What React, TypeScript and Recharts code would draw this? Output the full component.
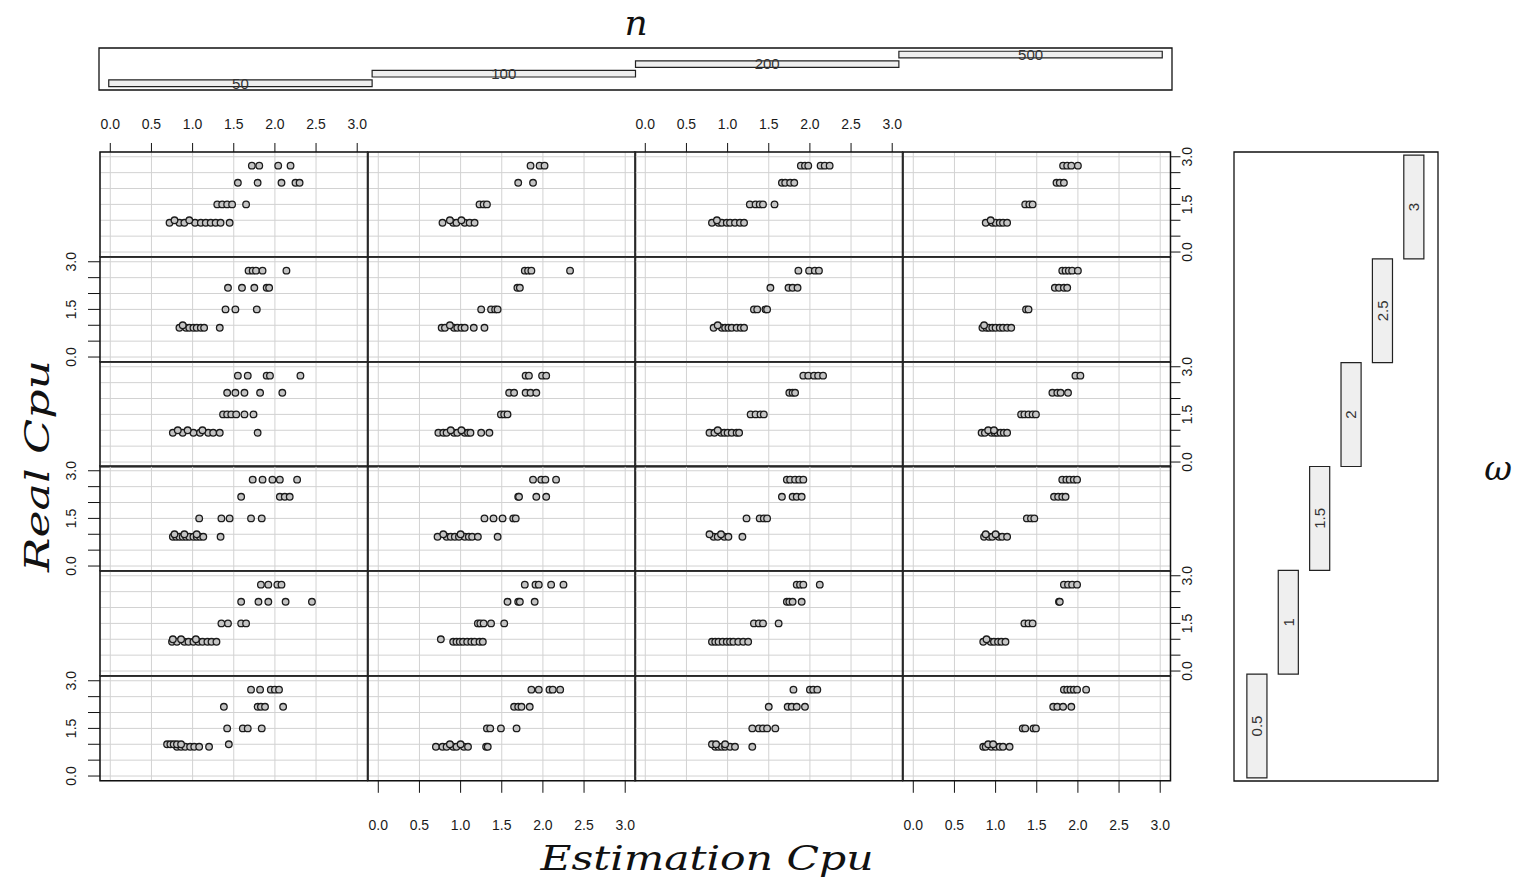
import React from 'react';
import { ScatterChart, Scatter, XAxis, YAxis, CartesianGrid, ReferenceArea } from 'recharts';

// Conditioning values
const N_VALUES = ['50', '100', '200', '500'];
const OMEGA_VALUES = ['0.5', '1', '1.5', '2', '2.5', '3']; // bottom to top

// Real Cpu levels observed in every panel
const REAL_LEVELS: Record<string, number> = { l1: 0.92, up: 1.0, l2: 1.5, l3: 2.18, l4: 2.72 };

// Estimation Cpu values grouped by Real Cpu level, one object per (omega, n) panel
const w3_n50 = { l4: [1.72, 1.81, 2.04, 2.19], l3: [1.55, 1.79, 2.08, 2.25, 2.3], l2: [1.3, 1.36, 1.42, 1.48, 1.65], l1: [0.72, 0.84, 0.9, 1.03, 1.1, 1.16, 1.22, 1.28, 1.34, 1.45], up: [0.78, 0.96] };
const w3_n100 = { l4: [1.85, 1.96, 2.02], l3: [1.7, 1.88], l2: [1.23, 1.28, 1.32], l1: [0.78, 0.91, 0.95, 1.05, 1.11, 1.17], up: [0.87, 1.01] };
const w3_n200 = { l4: [1.89, 1.94, 1.98, 2.13, 2.18, 2.24], l3: [1.66, 1.7, 1.76, 1.81], l2: [1.27, 1.34, 1.39, 1.43, 1.57], l1: [0.81, 0.89, 0.93, 0.99, 1.03, 1.09, 1.15, 1.2], up: [0.87] };
const w3_n500 = { l4: [1.82, 1.87, 1.92, 2.0], l3: [1.74, 1.78, 1.83], l2: [1.36, 1.41, 1.45], l1: [0.88, 0.96, 1.0, 1.05, 1.09, 1.14], up: [0.94] };

const w25_n50 = { l4: [1.68, 1.73, 1.77, 1.85, 2.14], l3: [1.43, 1.6, 1.75, 1.9, 1.93], l2: [1.4, 1.52, 1.78], l1: [0.84, 0.92, 0.96, 1.01, 1.05, 1.1, 1.14, 1.33], up: [0.88] };
const w25_n100 = { l4: [1.78, 1.82, 1.86, 2.33], l3: [1.69, 1.72], l2: [1.25, 1.37, 1.42, 1.45], l1: [0.77, 0.81, 0.92, 0.96, 1.01, 1.05, 1.16, 1.29], up: [0.87] };
const w25_n200 = { l4: [1.86, 1.99, 2.06, 2.11], l3: [1.52, 1.74, 1.79, 1.85], l2: [1.32, 1.36, 1.46, 1.48], l1: [0.83, 0.93, 0.97, 1.01, 1.05, 1.11, 1.16, 1.2], up: [0.88] };
const w25_n500 = { l4: [1.81, 1.85, 1.89, 1.93, 2.0], l3: [1.72, 1.77, 1.83, 1.87], l2: [1.37, 1.4], l1: [0.84, 0.89, 0.92, 0.96, 1.0, 1.05, 1.09, 1.14, 1.19], up: [0.86] };

const w2_n50 = { l4: [1.55, 1.67, 1.9, 1.94, 2.31], l3: [1.42, 1.52, 1.63, 1.82, 2.09], l2: [1.37, 1.42, 1.47, 1.53, 1.63, 1.74], l1: [0.76, 0.88, 1.01, 1.09, 1.19, 1.25, 1.33, 1.79], up: [0.82, 0.94, 1.12] };
const w2_n100 = { l4: [1.79, 1.83, 1.99, 2.04], l3: [1.59, 1.65, 1.79, 1.85, 1.92], l2: [1.49, 1.53, 1.57], l1: [0.73, 0.79, 0.83, 0.92, 0.96, 1.05, 1.09, 1.12, 1.25, 1.35], up: [0.88, 1.01] };
const w2_n200 = { l4: [1.92, 1.98, 2.05, 2.1, 2.16], l3: [1.75, 1.79, 1.82], l2: [1.28, 1.34, 1.4, 1.44], l1: [0.78, 0.84, 0.92, 0.96, 1.0, 1.05, 1.11, 1.14], up: [0.88] };
const w2_n500 = { l4: [1.97, 2.03], l3: [1.69, 1.75, 1.79, 1.88], l2: [1.31, 1.35, 1.4, 1.45, 1.49], l1: [0.83, 0.87, 0.95, 0.99, 1.02, 1.06, 1.1, 1.14], up: [0.91, 0.98] };

const w15_n50 = { l4: [1.73, 1.85, 1.97, 2.06, 2.27], l3: [1.59, 2.06, 2.12, 2.18], l2: [1.08, 1.35, 1.45, 1.71, 1.84], l1: [0.76, 0.8, 0.84, 0.88, 0.92, 0.96, 1.01, 1.05, 1.09, 1.13, 1.34], up: [0.78, 0.9, 1.05] };
const w15_n100 = { l4: [1.88, 1.98, 2.03, 2.16], l3: [1.7, 1.71, 1.92, 2.04], l2: [1.29, 1.4, 1.51, 1.64, 1.67], l1: [0.72, 0.83, 0.88, 0.93, 0.98, 1.05, 1.1, 1.14, 1.21, 1.45], up: [0.79, 1.0] };
const w15_n200 = { l4: [1.72, 1.76, 1.82, 1.87, 1.92], l3: [1.66, 1.79, 1.84, 1.9], l2: [1.23, 1.39, 1.44, 1.48], l1: [0.83, 0.88, 0.96, 1.01, 1.18], up: [0.78, 0.92] };
const w15_n500 = { l4: [1.81, 1.86, 1.9, 1.95, 1.99], l3: [1.71, 1.76, 1.81, 1.85], l2: [1.38, 1.43, 1.47], l1: [0.86, 0.92, 0.96, 1.04, 1.08, 1.14], up: [0.88, 1.0] };

const w1_n50 = { l4: [1.83, 1.92, 2.03, 2.08], l3: [1.59, 1.8, 1.92, 2.13, 2.45], l2: [1.35, 1.43, 1.59, 1.65], l1: [0.75, 0.81, 0.9, 0.95, 1.01, 1.07, 1.12, 1.18, 1.23, 1.29], up: [0.76, 0.86, 1.04] };
const w1_n100 = { l4: [1.78, 1.91, 1.95, 2.1, 2.25], l3: [1.57, 1.7, 1.72, 1.9], l2: [1.21, 1.24, 1.28, 1.37, 1.53], l1: [0.91, 0.95, 0.99, 1.03, 1.08, 1.13, 1.17, 1.23, 1.27], up: [0.76] };
const w1_n200 = { l4: [1.84, 1.88, 1.92, 2.12], l3: [1.72, 1.75, 1.79, 1.9], l2: [1.32, 1.38, 1.43, 1.62], l1: [0.81, 0.85, 0.89, 0.94, 0.99, 1.03, 1.07, 1.13, 1.19, 1.25], up: [] };
const w1_n500 = { l4: [1.83, 1.88, 1.93, 1.99], l3: [1.77, 1.78], l2: [1.35, 1.4, 1.45], l1: [0.85, 0.94, 0.98, 1.03, 1.07, 1.12], up: [0.89] };

const w05_n50 = { l4: [1.71, 1.82, 1.95, 2.0, 2.05], l3: [1.38, 1.79, 1.83, 1.88, 2.1], l2: [1.42, 1.61, 1.67, 1.84], l1: [0.81, 0.86, 0.91, 0.97, 1.02, 1.08, 1.2], up: [0.69, 0.73, 0.77, 0.81, 0.86, 1.44] };
const w05_n100 = { l4: [1.86, 1.95, 2.08, 2.12, 2.21], l3: [1.65, 1.7, 1.74, 1.84], l2: [1.32, 1.36, 1.49, 1.68], l1: [0.7, 0.78, 0.83, 0.91, 0.95, 1.04, 1.09, 1.31, 1.33], up: [0.87, 1.0] };
const w05_n200 = { l4: [1.8, 2.0, 2.04, 2.09], l3: [1.5, 1.73, 1.78, 1.84, 1.94], l2: [1.3, 1.38, 1.43, 1.48, 1.58], l1: [0.85, 0.89, 0.93, 0.97, 1.03, 1.09, 1.3], up: [0.81, 0.86, 0.97] };
const w05_n500 = { l4: [1.83, 1.87, 1.91, 1.95, 1.99, 2.1], l3: [1.7, 1.75, 1.82, 1.92], l2: [1.33, 1.36, 1.46, 1.49], l1: [0.85, 0.88, 0.95, 1.0, 1.05, 1.09, 1.17], up: [0.91, 0.97] };

// Panel rows from top (omega = 3) to bottom (omega = 0.5), columns n = 50..500
const PANEL_ROWS = [
  [w3_n50, w3_n100, w3_n200, w3_n500],
  [w25_n50, w25_n100, w25_n200, w25_n500],
  [w2_n50, w2_n100, w2_n200, w2_n500],
  [w15_n50, w15_n100, w15_n200, w15_n500],
  [w1_n50, w1_n100, w1_n200, w1_n500],
  [w05_n50, w05_n100, w05_n200, w05_n500],
];

const AXIS_TICKS = [0, 0.5, 1, 1.5, 2, 2.5, 3];
const LABELED_SIDE_TICKS = [0, 1.5, 3];

// Layout
const GRID_LEFT = 100;
const GRID_TOP = 152;
const PW = 267.5;
const PH = 104.8;
const PAD = 2;
const SIDE_LABEL_PAD = 14;
const X_DOMAIN: [number, number] = [-0.125, 3.125];
const Y_DOMAIN: [number, number] = [-0.15, 3.15];
const TOP_AXIS_H = 40;
const BOTTOM_AXIS_H = 56;
const LEFT_AXIS_W = 40;
const RIGHT_AXIS_W = 30;

const TICK_FONT = "'Liberation Sans Narrow', 'Liberation Sans', Arial, sans-serif";
const TITLE_FONT = "'DejaVu Serif', 'Liberation Serif', serif";
const GRID_COLOR = '#d2d2d2';

type Levels = Record<string, number[]>;

const toPoints = (levels: Levels) =>
  Object.keys(levels).flatMap((k) => levels[k].map((x) => ({ x, y: REAL_LEVELS[k] })));

const fmt = (v: number) => Number(v).toFixed(1);

const renderTopTick = (p: any) => (
  <text x={p.x} y={p.y} textAnchor="middle" fontSize={14} fontFamily={TICK_FONT} fill="#1a1a1a">
    {fmt(p.payload.value)}
  </text>
);

const renderBottomTick = (p: any) => (
  <text x={p.x} y={p.y + 10.5} textAnchor="middle" fontSize={14} fontFamily={TICK_FONT} fill="#1a1a1a">
    {fmt(p.payload.value)}
  </text>
);

const renderSideTick = (p: any) => {
  const v = Number(p.payload.value);
  if (!LABELED_SIDE_TICKS.includes(v)) return <g />;
  return (
    <text
      x={p.x}
      y={p.y}
      transform={`rotate(-90 ${p.x} ${p.y})`}
      textAnchor="middle"
      fontSize={14}
      fontFamily={TICK_FONT}
      fill="#1a1a1a"
    >
      {fmt(v)}
    </text>
  );
};

const renderPoint = (p: any) => (
  <circle cx={p.cx} cy={p.cy} r={3.3} fill="#c4c4c4" stroke="#1c1c1c" strokeWidth={1.3} />
);

function Panel({ row, col, levels }: { row: number; col: number; levels: Levels }) {
  const showTop = row === 0 && col % 2 === 0;
  const showBottom = row === PANEL_ROWS.length - 1 && col % 2 === 1;
  const showLeft = col === 0 && row % 2 === 1;
  const showRight = col === 3 && row % 2 === 0;
  const hasX = showTop || showBottom;
  const hasY = showLeft || showRight;
  const vPad = hasY ? SIDE_LABEL_PAD : PAD;
  const topH = showTop ? TOP_AXIS_H : 0;
  const bottomH = showBottom ? BOTTOM_AXIS_H : 0;
  const leftW = showLeft ? LEFT_AXIS_W : 0;
  const rightW = showRight ? RIGHT_AXIS_W : 0;
  const width = PW + leftW + rightW + 2 * PAD;
  const height = PH + topH + bottomH + 2 * vPad;
  const left = GRID_LEFT + col * PW - leftW - PAD;
  const top = GRID_TOP + row * PH - topH - vPad;

  return (
    <div style={{ position: 'absolute', left, top }}>
      <ScatterChart width={width} height={height} margin={{ top: vPad, right: PAD, bottom: vPad, left: PAD }}>
        <CartesianGrid stroke={GRID_COLOR} strokeWidth={1} />
        <XAxis
          type="number"
          dataKey="x"
          domain={X_DOMAIN}
          allowDataOverflow
          ticks={AXIS_TICKS}
          interval={0}
          hide={!hasX}
          orientation={showTop ? 'top' : 'bottom'}
          height={showTop ? TOP_AXIS_H : BOTTOM_AXIS_H}
          axisLine={false}
          tickLine={{ stroke: '#111', strokeWidth: 1 }}
          tickSize={showTop ? 9 : 12}
          tickMargin={showTop ? 14 : 27}
          tick={showTop ? renderTopTick : renderBottomTick}
        />
        <YAxis
          type="number"
          dataKey="y"
          domain={Y_DOMAIN}
          allowDataOverflow
          ticks={AXIS_TICKS}
          interval={0}
          hide={!hasY}
          orientation={showRight ? 'right' : 'left'}
          width={showRight ? RIGHT_AXIS_W : LEFT_AXIS_W}
          axisLine={false}
          tickLine={{ stroke: '#111', strokeWidth: 1 }}
          tickSize={showRight ? 10 : 12}
          tickMargin={12}
          tick={renderSideTick}
        />
        <ReferenceArea
          x1={X_DOMAIN[0]}
          x2={X_DOMAIN[1]}
          y1={Y_DOMAIN[0]}
          y2={Y_DOMAIN[1]}
          fill="none"
          stroke="#111"
          strokeWidth={1.5}
        />
        <Scatter data={toPoints(levels)} shape={renderPoint} isAnimationActive={false} />
      </ScatterChart>
    </div>
  );
}

// Given panel for n: one horizontal interval per column, stepping upward
const N_BOX = { left: 99, top: 47.5, width: 1073, height: 42 };
const N_X_DOMAIN: [number, number] = [-0.037, 4.037];
const N_Y_DOMAIN: [number, number] = [-0.36, 4.03];
const N_BAR_H = 0.69;

function NGivenPanel() {
  return (
    <div style={{ position: 'absolute', left: N_BOX.left - PAD, top: N_BOX.top - PAD }}>
      <ScatterChart
        width={N_BOX.width + 2 * PAD}
        height={N_BOX.height + 2 * PAD}
        margin={{ top: PAD, right: PAD, bottom: PAD, left: PAD }}
      >
        <XAxis type="number" dataKey="x" domain={N_X_DOMAIN} allowDataOverflow hide />
        <YAxis type="number" dataKey="y" domain={N_Y_DOMAIN} allowDataOverflow hide />
        <ReferenceArea
          x1={N_X_DOMAIN[0]}
          x2={N_X_DOMAIN[1]}
          y1={N_Y_DOMAIN[0]}
          y2={N_Y_DOMAIN[1]}
          fill="none"
          stroke="#111"
          strokeWidth={1.3}
        />
        {N_VALUES.map((n, i) => (
          <ReferenceArea
            key={n}
            x1={i}
            x2={i + 1}
            y1={i}
            y2={i + N_BAR_H}
            fill="#efefef"
            fillOpacity={1}
            stroke="#222"
            strokeWidth={1.2}
            label={{ value: n, position: 'center', fontSize: 15, fontFamily: TICK_FONT, fill: '#333' }}
          />
        ))}
      </ScatterChart>
    </div>
  );
}

// Given panel for omega: one vertical interval per row, stepping upward
const W_BOX = { left: 1234, top: 152, width: 204, height: 629 };
const W_X_DOMAIN: [number, number] = [-0.41, 6.09];
const W_Y_DOMAIN: [number, number] = [-0.03, 6.03];
const W_BAR_W = 0.64;

function OmegaGivenPanel() {
  return (
    <div style={{ position: 'absolute', left: W_BOX.left - PAD, top: W_BOX.top - PAD }}>
      <ScatterChart
        width={W_BOX.width + 2 * PAD}
        height={W_BOX.height + 2 * PAD}
        margin={{ top: PAD, right: PAD, bottom: PAD, left: PAD }}
      >
        <XAxis type="number" dataKey="x" domain={W_X_DOMAIN} allowDataOverflow hide />
        <YAxis type="number" dataKey="y" domain={W_Y_DOMAIN} allowDataOverflow hide />
        <ReferenceArea
          x1={W_X_DOMAIN[0]}
          x2={W_X_DOMAIN[1]}
          y1={W_Y_DOMAIN[0]}
          y2={W_Y_DOMAIN[1]}
          fill="none"
          stroke="#111"
          strokeWidth={1.3}
        />
        {OMEGA_VALUES.map((w, i) => (
          <ReferenceArea
            key={w}
            x1={i}
            x2={i + W_BAR_W}
            y1={i}
            y2={i + 1}
            fill="#efefef"
            fillOpacity={1}
            stroke="#222"
            strokeWidth={1.2}
            label={{ value: w, position: 'center', angle: -90, fontSize: 15, fontFamily: TICK_FONT, fill: '#333' }}
          />
        ))}
      </ScatterChart>
    </div>
  );
}

function Titles() {
  const common = { fontFamily: TITLE_FONT, fontStyle: 'italic' as const, fill: '#111' };
  return (
    <svg width={1517} height={882} style={{ position: 'absolute', left: 0, top: 0, pointerEvents: 'none' }}>
      <text x={636} y={35} fontSize={36} textAnchor="middle" {...common}>n</text>
      <text x={707} y={870} fontSize={34} textAnchor="middle" textLength={333} lengthAdjust="spacingAndGlyphs" {...common}>
        Estimation Cpu
      </text>
      <text
        transform="translate(49,466) rotate(-90)"
        fontSize={34}
        textAnchor="middle"
        textLength={212}
        lengthAdjust="spacingAndGlyphs"
        {...common}
      >
        Real Cpu
      </text>
      <text x={1498} y={480} fontSize={34} textAnchor="middle" {...common}>ω</text>
    </svg>
  );
}

export default function App() {
  return (
    <div style={{ position: 'absolute', left: 0, top: 0, width: 1517, height: 882, background: '#fff', overflow: 'hidden' }}>
      <NGivenPanel />
      {PANEL_ROWS.map((rowPanels, r) =>
        rowPanels.map((levels, c) => <Panel key={`${r}-${c}`} row={r} col={c} levels={levels as Levels} />)
      )}
      <OmegaGivenPanel />
      <Titles />
    </div>
  );
}
